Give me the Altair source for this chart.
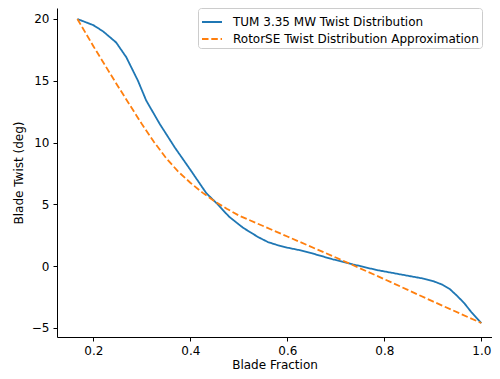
import altair as alt
import pandas as pd

tum_x = [0.167, 0.20, 0.22, 0.247, 0.268, 0.292, 0.309, 0.337, 0.368, 0.40, 0.433, 0.454,
         0.48, 0.509, 0.54, 0.56, 0.58, 0.60, 0.625, 0.65, 0.694, 0.735, 0.783, 0.852,
         0.88, 0.90, 0.92, 0.935, 0.95, 0.965, 0.98, 1.0]
tum_y = [20.0, 19.5, 19.0, 18.1, 16.9, 15.0, 13.4, 11.5, 9.6, 7.8, 5.9, 5.1,
         4.0, 3.1, 2.35, 1.95, 1.7, 1.5, 1.3, 1.05, 0.55, 0.15, -0.3, -0.8,
         -1.0, -1.2, -1.5, -1.85, -2.4, -3.0, -3.75, -4.6]

rse_x = [0.167, 0.20, 0.25, 0.30, 0.325, 0.35, 0.375, 0.40, 0.425, 0.45, 0.475, 0.50,
         0.60, 0.70, 0.80, 0.90, 1.0]
rse_y = [20.0, 17.8, 14.6, 11.5, 10.05, 8.75, 7.65, 6.75, 5.95, 5.25, 4.65, 4.1,
         2.4, 0.7, -1.05, -2.85, -4.6]

names = ["TUM 3.35 MW Twist Distribution", "RotorSE Twist Distribution Approximation"]
colors = ["#1f77b4", "#ff7f0e"]
dashes = [[1, 0], [6.5, 2.8]]
x_ticks = [0.2, 0.4, 0.6, 0.8, 1.0]
y_ticks = [-5, 0, 5, 10, 15, 20]

df = pd.concat([
    pd.DataFrame({"x": tum_x, "y": tum_y, "series": names[0]}),
    pd.DataFrame({"x": rse_x, "y": rse_y, "series": names[1]}),
])

font = "DejaVu Sans"
axis_common = dict(
    labelFont=font, titleFont=font, labelFontSize=12, titleFontSize=12,
    titleFontWeight="normal", labelColor="#000", titleColor="#000",
    domainColor="#000", tickColor="#000", domainWidth=1, tickWidth=1,
    tickSize=4, labelPadding=4, grid=False,
)

chart = alt.Chart(df).mark_line(strokeWidth=1.8, clip=True).encode(
    x=alt.X("x:Q", title="Blade Fraction",
            scale=alt.Scale(domain=[0.125, 1.022], nice=False, zero=False),
            axis=alt.Axis(values=x_ticks, format=".1f", titlePadding=3, **axis_common)),
    y=alt.Y("y:Q", title="Blade Twist (deg)",
            scale=alt.Scale(domain=[-5.73, 20.89], nice=False, zero=False),
            axis=alt.Axis(values=y_ticks, format="d", titlePadding=6, **axis_common)),
    color=alt.Color("series:N", scale=alt.Scale(domain=names, range=colors),
                    legend=alt.Legend(title=None)),
    strokeDash=alt.StrokeDash("series:N", scale=alt.Scale(domain=names, range=dashes),
                              legend=alt.Legend(title=None)),
).properties(
    width=435, height=329,
    autosize=alt.AutoSizeParams(type="none"),
    padding={"left": 49, "top": 0, "right": 0, "bottom": 34},
).configure_view(stroke=None).configure_legend(
    orient="none", legendX=141, legendY=0,
    labelFont=font, labelFontSize=12, labelColor="#000", labelLimit=0,
    symbolType="stroke", symbolSize=400, symbolStrokeWidth=1.8,
    fillColor="white", strokeColor="#cccccc", cornerRadius=3,
    padding=3, rowPadding=0, labelOffset=10,
)

chart.save("out.html", embed_options={"renderer": "svg", "actions": False})
